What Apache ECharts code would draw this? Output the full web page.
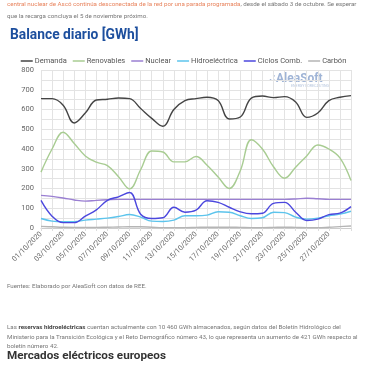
<!DOCTYPE html>
<html>
<head>
<meta charset="utf-8">
<script src="https://cdn.jsdelivr.net/npm/echarts@6/dist/echarts.min.js"></script>
<style>
html,body{margin:0;padding:0;background:#fff;}
#c{width:367px;height:367px;}
</style>
</head>
<body>
<div id="c"></div>
<script>
const dates = ['01/10/2020','02/10/2020','03/10/2020','04/10/2020','05/10/2020','06/10/2020','07/10/2020','08/10/2020','09/10/2020','10/10/2020','11/10/2020','12/10/2020','13/10/2020','14/10/2020','15/10/2020','16/10/2020','17/10/2020','18/10/2020','19/10/2020','20/10/2020','21/10/2020','22/10/2020','23/10/2020','24/10/2020','25/10/2020','26/10/2020','27/10/2020','28/10/2020','29/10/2020'];
const demanda = [655,655,622,532,582,648,652,658,655,605,555,515,600,645,655,662,645,552,562,658,668,660,665,638,560,582,645,662,670];
const renovables = [283,400,485,428,365,333,316,260,198,295,390,385,335,335,362,318,258,200,290,447,400,310,252,308,365,420,400,355,240];
const nuclear = [165,160,152,142,136,140,143,145,145,145,145,145,145,145,145,145,145,145,145,145,145,145,145,147,151,148,145,145,145];
const hidro = [48,35,32,32,40,45,50,58,68,55,35,33,40,62,62,65,82,80,62,48,52,80,78,55,45,50,62,70,85];
const ciclos = [140,60,27,27,60,92,140,158,180,70,48,52,105,80,90,138,130,105,82,72,75,125,130,80,38,45,68,75,108];
const carbon = [8,6,4,3,3,3,4,5,6,6,4,2,2,2,3,4,4,4,3,2,2,3,4,3,2,2,4,7,10];
const yTicks = [0,100,200,300,400,500,600,700,800];

const names = ['Demanda','Renovables','Nuclear','Hidroeléctrica','Ciclos Comb.','Carbón'];
const colors = ['#444444','#a8cc92','#9a7fd2','#5cc4ec','#4b47de','#b5b5b5'];
const values = [demanda, renovables, nuclear, hidro, ciclos, carbon];

const chart = echarts.init(document.getElementById('c'), null, {renderer:'canvas'});
const F = 'Roboto, "Open Sans", sans-serif';
const fs = 6.2;
chart.setOption({
  animation:false,
  color: colors,
  textStyle:{fontFamily:F},
  grid:{left:41,right:16,top:70,bottom:139,containLabel:false},
  legend:{
    data: names.map(n=>({name:n, icon:'rect'})),
    top:52, left:'center',
    itemWidth:12, itemHeight:1.5, itemGap:6,
    textStyle:{fontSize:7.5,color:'#555',fontFamily:F,padding:[0,0,0,-3]}
  },
  xAxis:{
    type:'category', data:dates, boundaryGap:false,
    axisLine:{lineStyle:{color:'#ccc'}},
    axisTick:{show:true,interval:0,length:3,lineStyle:{color:'#ddd'}},
    splitLine:{show:true,interval:0,lineStyle:{color:'#e3e3e3',width:1}},
    axisLabel:{rotate:45,fontSize:7.3,color:'#666',margin:5,
      interval:(i)=> i%2===0 && i<=26}
  },
  yAxis:{
    type:'value', min:0, max:800, interval:50,
    axisLine:{show:false}, axisTick:{show:false},
    splitLine:{lineStyle:{color:'#e3e3e3',width:1}},
    axisLabel:{fontSize:7.5,color:'#666',margin:7,
      formatter:(v)=> yTicks.indexOf(v)>=0 ? String(v) : ''}
  },
  graphic:[
    {type:'text',left:7,top:1,style:{text:'{o|central nuclear de Ascó continúa desconectada de la red por una parada programada}{g|, desde el sábado 3 de octubre. Se esperar}',
      rich:{o:{fill:'#e8845e',fontSize:fs,fontFamily:F},g:{fill:'#777',fontSize:fs,fontFamily:F}}}},
    {type:'text',left:7,top:13,style:{text:'que la recarga concluya el 5 de noviembre próximo.',fill:'#777',fontSize:fs,fontFamily:F}},
    {type:'text',left:10,top:29,style:{text:'Balance diario [GWh]',fill:'#1d4f9e',fontSize:13.8,fontWeight:'bold',fontFamily:F}},
    {type:'text',left:269,top:73,style:{text:'.:',fill:'#7f9bc8',fontSize:11,fontWeight:'bold',fontFamily:F}},
    {type:'text',left:276,top:73,style:{text:'AleaSoft',fill:'#9fb4d6',fontSize:12,fontWeight:'bold',fontFamily:F}},
    {type:'text',left:291,top:84,style:{text:'ENERGY FORECASTING',fill:'#b7c6de',fontSize:3.6,fontFamily:F}},
    {type:'text',left:7,top:283,style:{text:'Fuentes: Elaborado por AleaSoft con datos de REE.',fill:'#777',fontSize:fs,fontFamily:F}},
    {type:'text',left:7,top:324,style:{text:'{g|Las }{b|reservas hidroeléctricas}{g| cuentan actualmente con 10 460 GWh almacenados, según datos del Boletín Hidrológico del}',
      rich:{g:{fill:'#777',fontSize:fs,fontFamily:F},b:{fill:'#444',fontSize:fs,fontWeight:'bold',fontFamily:F}}}},
    {type:'text',left:7,top:334,style:{text:'Ministerio para la Transición Ecológica y el Reto Demográfico número 43, lo que representa un aumento de 421 GWh respecto al',fill:'#777',fontSize:fs,fontFamily:F}},
    {type:'text',left:7,top:343,style:{text:'boletín número 42.',fill:'#777',fontSize:fs,fontFamily:F}},
    {type:'text',left:7,top:350,style:{text:'Mercados eléctricos europeos',fill:'#333',fontSize:11.7,fontWeight:'bold',fontFamily:F}}
  ],
  series: names.map((n,k)=>({
    name:n, type:'line', data:values[k], smooth:0.4, showSymbol:false,
    lineStyle:{width:1.4,color:colors[k]}, itemStyle:{color:colors[k]}
  }))
});
</script>
</body>
</html>
